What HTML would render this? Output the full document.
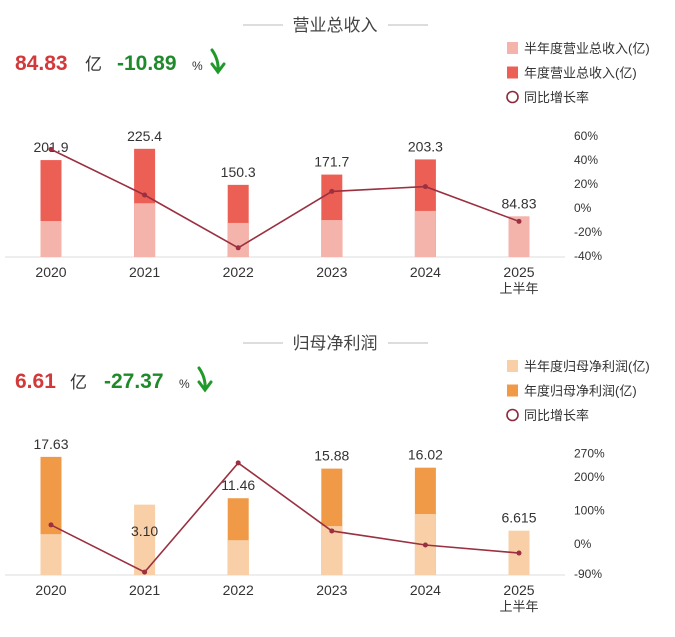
<!DOCTYPE html>
<html><head><meta charset="utf-8">
<style>
body{margin:0;background:#fff;width:675px;height:632px;overflow:hidden;font-family:"Liberation Sans","Noto Sans CJK SC",sans-serif;}
svg text{font-family:"Liberation Sans","Noto Sans CJK SC",sans-serif;}
</style></head>
<body>
<svg id="c" width="675" height="632"></svg>
<script>
const years=["2020","2021","2022","2023","2024","2025"];
const revTotal=[201.9,225.4,150.3,171.7,203.3,84.83];
const revHalf=[75,112,71,77,96,84.83];
const revGrowth=[48,10,-34,13,17,-12];
const revLabels=["201.9","225.4","150.3","171.7","203.3","84.83"];
const revTicks=[60,40,20,0,-20,-40];
const npTotal=[17.63,3.10,11.46,15.88,16.02,6.615];
const npHalf=[6.1,10.5,5.2,7.3,9.1,6.615];
const npGrowth=[54,-87,239,36,-6,-30];
const npLabels=["17.63","3.10","11.46","15.88","16.02","6.615"];
const npTicks=[270,200,100,0,-90];
const npTickPos=[270,200,100,0,-90];

const NS="http://www.w3.org/2000/svg";
const svg=document.getElementById('c');
function mk(tag,attrs,parent){const e=document.createElementNS(NS,tag);for(const k in attrs)e.setAttribute(k,attrs[k]);(parent||svg).appendChild(e);return e;}
function tx(x,y,s,attrs){const e=mk('text',Object.assign({x:x,y:y},attrs||{}));e.textContent=s;return e;}
const xPos=i=>51+i*93.6;

function panel(o){
  const g=mk('g',{});
  
  
  // title
  const t=tx(335,o.titleY,o.title,{'font-size':17,'fill':'#444','text-anchor':'middle'},g);
  g.appendChild(t);
  
  
  mk('line',{x1:243,x2:283,y1:o.titleY-6,y2:o.titleY-6,stroke:'#bbb','stroke-width':1},g);
  mk('line',{x1:388,x2:428,y1:o.titleY-6,y2:o.titleY-6,stroke:'#bbb','stroke-width':1},g);
  // headline
  const h1=tx(15,o.headY,o.headVal,{'font-size':21,'font-weight':'bold',fill:'#d2393a'});g.appendChild(h1);
  
  
  const hy=tx(o.yiX,o.headY,'亿',{'font-size':17,fill:'#333'});g.appendChild(hy);
  const h2=tx(o.pctX,o.headY,o.headPct,{'font-size':21,'font-weight':'bold',fill:'#1f8a2a'});g.appendChild(h2);
  
  
  const hp=tx(o.pctX+75,o.headY,'%',{'font-size':12,fill:'#333'});g.appendChild(hp);
  const ar=mk('path',{d:`M${o.pctX+95} ${o.headY-20} Q${o.pctX+102} ${o.headY-10} ${o.pctX+101} ${o.headY+1} M${o.pctX+95} ${o.headY-6} L${o.pctX+101} ${o.headY+2} L${o.pctX+107} ${o.headY-6}`,fill:'none',stroke:'#1f9a2a','stroke-width':3,'stroke-linecap':'round'},g);
  
  
  // legend
  const lg=[[o.cHalf,o.leg[0]],[o.cFull,o.leg[1]],[null,'同比增长率']];
  lg.forEach((l,i)=>{
    const y=o.legY+i*24.5;
    const ge=mk('g',{},g);
    
    
    if(l[0])mk('rect',{x:507,y:y-11,width:11,height:12,fill:l[0]},ge);
    else mk('circle',{cx:512.5,cy:y-5,r:5.5,fill:'none',stroke:'#8b2a3a','stroke-width':1.6},ge);
    const tt=tx(524,y,l[1],{'font-size':13,fill:'#333'});ge.appendChild(tt);
  });
  // baseline
  mk('line',{x1:5,x2:565,y1:o.base,y2:o.base,stroke:'#ddd','stroke-width':1},g);
  // bars
  years.forEach((yr,i)=>{
    const x=xPos(i)-10.5;
    if(i<5 && o.total[i]>o.half[i]){
      const b=mk('rect',{x:x,y:o.base-o.total[i]*o.k,width:21,height:o.total[i]*o.k,fill:o.cFull},g);
      
      
    }
    const hb=mk('rect',{x:x,y:o.base-o.half[i]*o.k,width:21,height:o.half[i]*o.k,fill:o.cHalf},g);
    
    
    const top=Math.max(o.total[i],o.half[i]);
    const ly=(i==1&&o.npSpecial)?o.base-o.total[i]*o.k-18:o.base-top*o.k-8;
    const lb=tx(xPos(i),ly,o.labels[i],{'font-size':14,fill:'#333','text-anchor':'middle'});g.appendChild(lb);
    
    
    const xl=tx(xPos(i),o.base+20,yr,{'font-size':14,fill:'#333','text-anchor':'middle'});g.appendChild(xl);
    
    
    if(i==5){const s=tx(xPos(i),o.base+36,'上半年',{'font-size':13,fill:'#333','text-anchor':'middle'});g.appendChild(s);}
  });
  // right axis
  o.ticks.forEach(v=>{
    const t=tx(574,o.gy(v)+5,v+'%',{'font-size':12,fill:'#333'});g.appendChild(t);
    
    
  });
  // line
  const pts=o.growth.map((v,i)=>xPos(i)+','+o.gy(v)).join(' ');
  const pl=mk('polyline',{points:pts,fill:'none',stroke:'#9a3040','stroke-width':1.6},g);
  
  
  o.growth.forEach((v,i)=>{
    const c=mk('circle',{cx:xPos(i),cy:o.gy(v),r:2.5,fill:'#9a3040'},g);
    
    
  });
  return g;
}
panel({name:'revenue-panel',title:'营业总收入',titleY:31,headY:70,headVal:'84.83',yiX:85,pctX:117,headPct:'-10.89',
  legY:53,leg:['半年度营业总收入(亿)','年度营业总收入(亿)'],cHalf:'#f4b4ab',cFull:'#ec5f55',
  base:257,k:0.48,total:revTotal,half:revHalf,labels:revLabels,growth:revGrowth,ticks:revTicks,
  gy:v=>207-v*1.2});
panel({name:'net-profit-panel',title:'归母净利润',titleY:349,headY:388,headVal:'6.61',yiX:70,pctX:104,headPct:'-27.37',
  legY:371,leg:['半年度归母净利润(亿)','年度归母净利润(亿)'],cHalf:'#f8cfa6',cFull:'#f09a48',
  base:575,k:6.7,total:npTotal,half:npHalf,labels:npLabels,growth:npGrowth,ticks:npTicks,npSpecial:true,
  gy:v=>543-v*0.335});
</script>
</body></html>
